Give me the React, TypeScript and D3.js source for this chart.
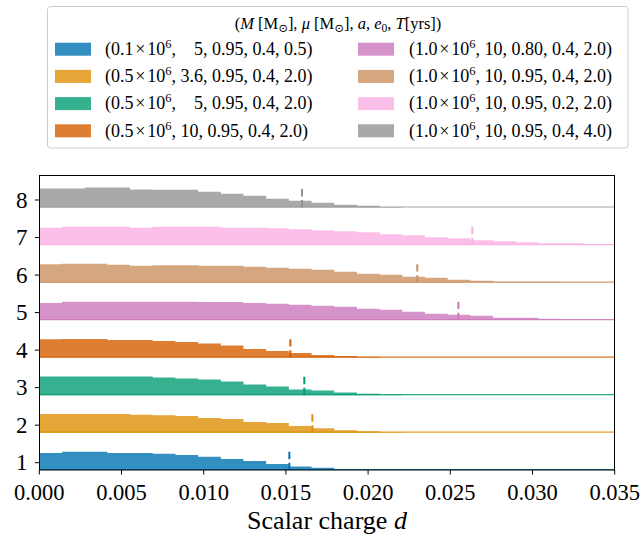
import React from "react";
import * as d3 from "d3";

// ---------- data ----------
const binWidth = 0.00138;
const xTicks = [0, 0.005, 0.01, 0.015, 0.02, 0.025, 0.03, 0.035];
const yTicks = [1, 2, 3, 4, 5, 6, 7, 8];

const row1 = [0.461, 0.488, 0.488, 0.461, 0.461, 0.435, 0.408, 0.355, 0.301, 0.248, 0.168, 0.099, 0.067, 0.019, 0.008];
const row2 = [0.499, 0.499, 0.499, 0.499, 0.48, 0.461, 0.445, 0.392, 0.365, 0.285, 0.259, 0.179, 0.12, 0.061, 0.035, 0.008];
const row3 = [0.499, 0.499, 0.499, 0.499, 0.499, 0.472, 0.445, 0.419, 0.365, 0.285, 0.232, 0.152, 0.125, 0.067, 0.04, 0.013];
const row4 = [0.488, 0.499, 0.499, 0.472, 0.472, 0.445, 0.419, 0.373, 0.32, 0.232, 0.179, 0.125, 0.072, 0.045, 0.021];
const row5 = [0.453, 0.488, 0.488, 0.488, 0.488, 0.488, 0.488, 0.48, 0.48, 0.453, 0.435, 0.408, 0.381, 0.355, 0.301, 0.275, 0.221, 0.168, 0.141, 0.115, 0.061, 0.061, 0.035, 0.013, 0.013, 0.013];
const row6 = [0.488, 0.499, 0.499, 0.472, 0.445, 0.461, 0.461, 0.445, 0.445, 0.419, 0.392, 0.365, 0.339, 0.285, 0.232, 0.205, 0.152, 0.125, 0.072, 0.045, 0.019, 0.019, 0.019, 0.008, 0.008, 0.008];
const row7 = [0.461, 0.488, 0.488, 0.488, 0.461, 0.488, 0.488, 0.488, 0.461, 0.461, 0.445, 0.419, 0.392, 0.365, 0.339, 0.285, 0.259, 0.205, 0.179, 0.125, 0.099, 0.072, 0.045, 0.045, 0.019, 0.019];
const row8 = [0.507, 0.507, 0.533, 0.533, 0.48, 0.472, 0.472, 0.419, 0.365, 0.312, 0.232, 0.179, 0.125, 0.072, 0.045, 0.013];
const rows = [row1, row2, row3, row4, row5, row6, row7, row8];

const markers = [0.01521, 0.01661, 0.01612, 0.01527, 0.02549, 0.02299, 0.02634, 0.01598];
const colors = ["#0173b2", "#de8f05", "#029e73", "#d55e00", "#cc78bc", "#ca9161", "#fbafe4", "#949494"];

const massM = ["0.1", "0.5", "0.5", "0.5", "1.0", "1.0", "1.0", "1.0"];
const massMu = ["5", "3.6", "5", "10", "10", "10", "10", "10"];
const spinA = ["0.95", "0.95", "0.95", "0.95", "0.80", "0.95", "0.95", "0.95"];
const eccE0 = ["0.4", "0.4", "0.4", "0.4", "0.4", "0.4", "0.2", "0.4"];
const timeT = ["0.5", "2.0", "2.0", "2.0", "2.0", "2.0", "2.0", "4.0"];

// ---------- layout ----------
const W = 644, H = 534;
const PL = 39.3, PR = 614.7, PT = 175, PB = 470;
const FONT = "'Liberation Serif', 'Times New Roman', 'DejaVu Serif', serif";
const TS: React.CSSProperties = { fontFamily: FONT };
const ridgeOffset = 0.2;
const markerHeight = 0.5;

export default function App() {
  const x = d3.scaleLinear().domain([0, 0.035]).range([PL, PR]);
  const y = d3.scaleLinear().domain([0.805, 8.666]).range([PB, PT]);

  const fmt = d3.format(".3f");

  const ridges = rows.map((vals, i) => {
    const base = i + 1 - ridgeOffset;
    const pts = vals.map((v, k) => [k * binWidth, v] as [number, number]);
    pts.push([vals.length * binWidth, vals[vals.length - 1]]);
    const area = d3
      .area<[number, number]>()
      .curve(d3.curveStepAfter)
      .x((d) => x(d[0]))
      .y0(y(base))
      .y1((d) => y(base + d[1]));
    return { base, d: area(pts) as string };
  });

  const legendRowY = [54.9, 82.1, 109.3, 136.5];
  const colSwatchX = [55, 358];
  const colTextX = [105, 409];

  return (
    <svg width={W} height={H} style={{ position: "absolute", left: 0, top: 0, background: "#fff", fontFamily: FONT }}>
      <defs>
        <clipPath id="plotclip">
          <rect x={PL} y={PT} width={PR - PL} height={PB - PT} />
        </clipPath>
      </defs>

      {/* ridges */}
      <g clipPath="url(#plotclip)">
        {ridges.map((r, i) => (
          <g key={i}>
            <path d={r.d} fill={colors[i]} fillOpacity={0.8} stroke="none" />
            <line x1={x(0)} x2={x(0.035)} y1={y(r.base) - 0.5} y2={y(r.base) - 0.5} stroke={colors[i]} strokeOpacity={0.85} strokeWidth={1.2} />
          </g>
        ))}
        {markers.map((m, i) => {
          const base = i + 1 - ridgeOffset;
          return (
            <line
              key={"m" + i}
              x1={x(m)}
              x2={x(m)}
              y1={y(base)}
              y2={y(base + markerHeight)}
              stroke={colors[i]}
              strokeWidth={2}
              strokeDasharray="7.4,3.6"
            />
          );
        })}
      </g>

      {/* frame */}
      <rect x={39.5} y={175.5} width={575} height={294.5} fill="none" stroke="#000" strokeWidth={1} />

      {/* x ticks */}
      {xTicks.map((t) => (
        <g key={"x" + t}>
          <line x1={x(t)} x2={x(t)} y1={PB} y2={PB + 4.5} stroke="#000" strokeWidth={1} />
          <text x={x(t)} y={500} textAnchor="middle" fontSize={22.5} fill="#000" style={TS}>
            {fmt(t)}
          </text>
        </g>
      ))}
      {/* y ticks */}
      {yTicks.map((t) => (
        <g key={"y" + t}>
          <line x1={PL - 4.5} x2={PL} y1={y(t)} y2={y(t)} stroke="#000" strokeWidth={1} />
          <text x={27.5} y={y(t) + 7.8} textAnchor="end" fontSize={23} fill="#000" style={TS}>
            {t}
          </text>
        </g>
      ))}

      {/* x label */}
      <text x={327} y={529} textAnchor="middle" fontSize={26} fill="#000" style={TS}>
        Scalar charge <tspan fontStyle="italic">d</tspan>
      </text>

      {/* legend */}
      <rect x={47.5} y={6.5} width={580.5} height={141.5} rx={3} fill="#fff" fillOpacity={0.8} stroke="#cccccc" strokeWidth={1} />
      <text x={338} y={29} textAnchor="middle" fontSize={16.5} fill="#000" style={TS}>
        (<tspan fontStyle="italic">M</tspan> [M<tspan baselineShift="-25%" fontSize="70%">⊙</tspan>],{" "}
        <tspan fontStyle="italic">μ</tspan> [M<tspan baselineShift="-25%" fontSize="70%">⊙</tspan>],{" "}
        <tspan fontStyle="italic">a</tspan>, <tspan fontStyle="italic">e</tspan>
        <tspan baselineShift="-25%" fontSize="70%">0</tspan>, <tspan fontStyle="italic">T</tspan>[yrs])
      </text>
      {colors.map((c, i) => {
        const col = i < 4 ? 0 : 1;
        const row = i % 4;
        const by = legendRowY[row];
        const pad = massMu[i].length === 1;
        return (
          <g key={"lg" + i}>
            <rect x={colSwatchX[col]} y={by - 12.2} width={36} height={13} fill={c} fillOpacity={0.8} />
            <text x={colTextX[col]} y={by} fontSize={18} fill="#000" style={TS}>
              ({massM[i]}
              <tspan dx="0.1em">×</tspan>
              <tspan dx="0.1em">10</tspan>
              <tspan baselineShift="super" fontSize="70%">6</tspan>
              <tspan>, </tspan>
              <tspan dx={pad ? "0.75em" : "0"}>{massMu[i]}</tspan>
              {`, ${spinA[i]}, ${eccE0[i]}, ${timeT[i]})`}
            </text>
          </g>
        );
      })}
    </svg>
  );
}
